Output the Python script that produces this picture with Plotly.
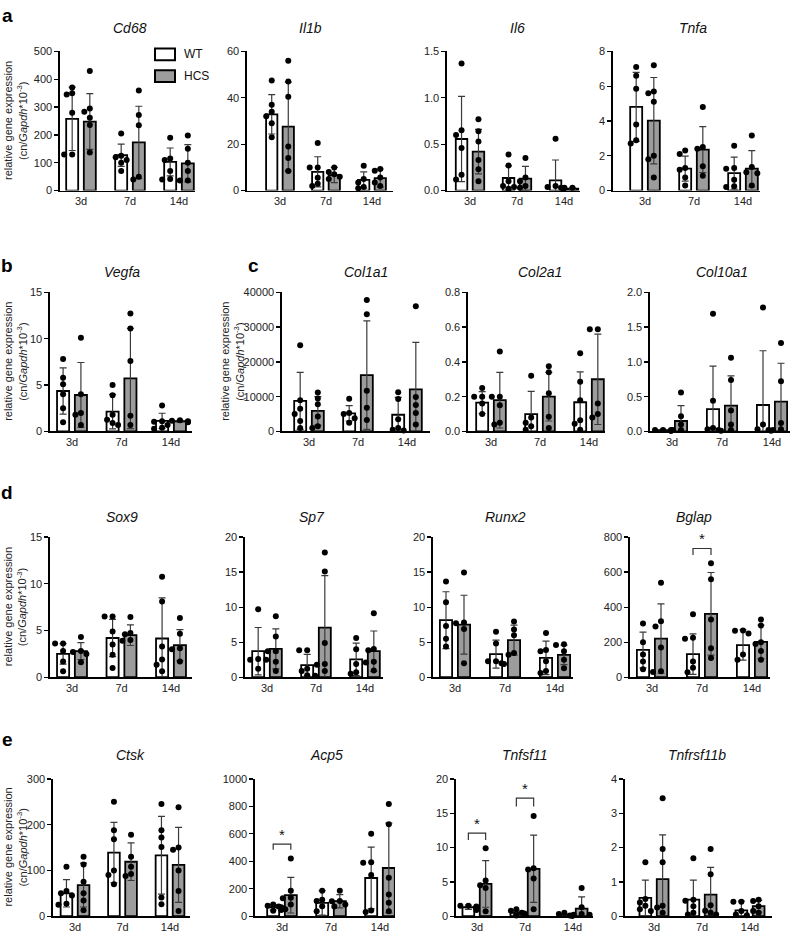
import plotly.graph_objects as go

W, H = 795, 934
days = ["3d", "7d", "14d"]
groups = ["WT", "HCS"]
genes = ["Cd68", "Il1b", "Il6", "Tnfa", "Vegfa", "Col1a1", "Col2a1", "Col10a1",
         "Sox9", "Sp7", "Runx2", "Bglap", "Ctsk", "Acp5", "Tnfsf11", "Tnfrsf11b"]
panel_letters = ["a", "b", "c", "d", "e"]

# y-axis scale per gene (max tick, tick step)
y_max = [500, 60, 1.5, 8, 15, 40000, 0.8, 2.0, 15, 20, 20, 800, 300, 1000, 20, 4]
y_step = [100, 20, 0.5, 2, 5, 10000, 0.2, 0.5, 5, 5, 5, 200, 100, 200, 5, 1]

# ---------------- data (mean, SD, individual points) ----------------
Cd68_WT_mean = [258, 127, 103]
Cd68_WT_sd = [114, 40, 50]
Cd68_HCS_mean = [248, 173, 98]
Cd68_HCS_sd = [100, 130, 67]
Cd68_WT_pts = [[370, 350, 345, 280, 130, 130], [205, 125, 120, 110, 100, 70], [190, 115, 110, 70, 42, 40]]
Cd68_HCS_pts = [[430, 295, 283, 262, 236, 137], [360, 272, 235, 50, 40], [198, 150, 100, 70, 36, 36]]

Il1b_WT_mean = [32.9, 8.1, 4.6]
Il1b_WT_sd = [8.5, 6.5, 3.5]
Il1b_HCS_mean = [27.6, 6.7, 5.4]
Il1b_HCS_sd = [19.2, 3.3, 3.9]
Il1b_WT_pts = [[47.5, 37, 34, 32, 29, 23], [20.5, 10, 10, 5.5, 3, 2], [10.7, 5, 3.5, 1.5, 1]]
Il1b_HCS_pts = [[56, 47, 40.5, 19, 14, 8.5], [10, 8, 7, 6, 5], [9.3, 8.6, 5.7, 3.5, 2]]

Il6_WT_mean = [0.556, 0.136, 0.11]
Il6_WT_sd = [0.46, 0.13, 0.22]
Il6_HCS_mean = [0.42, 0.13, 0.02]
Il6_HCS_sd = [0.24, 0.13, 0.01]
Il6_WT_pts = [[1.37, 0.65, 0.6, 0.46, 0.17, 0.12], [0.39, 0.27, 0.1, 0.05, 0.04, 0.02], [0.56, 0.05, 0.04, 0.03, 0.02]]
Il6_HCS_pts = [[0.77, 0.64, 0.53, 0.33, 0.23, 0.1], [0.35, 0.14, 0.1, 0.05, 0.03], [0.03, 0.03, 0.02, 0.02, 0.02, 0.01]]

Tnfa_WT_mean = [4.81, 1.26, 1.0]
Tnfa_WT_sd = [1.98, 0.72, 0.92]
Tnfa_HCS_mean = [4.02, 2.36, 1.26]
Tnfa_HCS_sd = [2.48, 1.32, 1.04]
Tnfa_WT_pts = [[7.1, 6.6, 5.85, 3.8, 2.9, 2.7], [2.3, 2.1, 1.3, 1.2, 0.75, 0.3], [2.58, 1.3, 1.25, 0.62, 0.25, 0.2]]
Tnfa_HCS_pts = [[7.2, 5.7, 5.6, 5.1, 2.0, 1.8, 0.75], [4.8, 2.5, 2.4, 1.4, 0.85], [3.17, 1.35, 1.05, 1.0, 0.3]]

Vegfa_WT_mean = [4.36, 2.14, 1.14]
Vegfa_WT_sd = [2.5, 1.86, 0.82]
Vegfa_HCS_mean = [3.93, 5.71, 1.1]
Vegfa_HCS_sd = [3.5, 5.4, 0.1]
Vegfa_WT_pts = [[7.8, 5.8, 5.1, 4.0, 2.5, 1.0], [5.0, 3.9, 1.8, 1.25, 0.9, 0.7], [2.8, 1.1, 1.05, 0.7, 0.4, 0.3]]
Vegfa_HCS_pts = [[10.1, 4.0, 2.0, 1.8, 0.7], [12.7, 11.1, 7.6, 1.7, 0.7], [1.2, 1.15, 1.1, 1.05, 1.0]]

Col1a1_WT_mean = [8800, 5200, 4800]
Col1a1_WT_sd = [8200, 2200, 5000]
Col1a1_HCS_mean = [5900, 16200, 12100]
Col1a1_HCS_sd = [4100, 15600, 13500]
Col1a1_WT_pts = [[24800, 9000, 6500, 5000, 3000, 1000], [9400, 5300, 5000, 3800, 2500], [11300, 9300, 3500, 1000, 500, 300]]
Col1a1_HCS_pts = [[11200, 9500, 7800, 4300, 1500, 1000], [37800, 33700, 11700, 6800, 3300], [36000, 9900, 7600, 5300, 2000]]

Col2a1_WT_mean = [0.166, 0.10, 0.168]
Col2a1_WT_sd = [0.063, 0.13, 0.175]
Col2a1_HCS_mean = [0.18, 0.20, 0.30]
Col2a1_HCS_sd = [0.16, 0.14, 0.26]
Col2a1_WT_pts = [[0.25, 0.2, 0.2, 0.16, 0.1], [0.32, 0.08, 0.05, 0.03, 0.01], [0.45, 0.285, 0.18, 0.065, 0.045, 0.01]]
Col2a1_HCS_pts = [[0.46, 0.2, 0.2, 0.15, 0.05, 0.04], [0.375, 0.34, 0.22, 0.085, 0.02], [0.587, 0.587, 0.16, 0.1, 0.08]]

Col10a1_WT_mean = [0.02, 0.32, 0.38]
Col10a1_WT_sd = [0.01, 0.62, 0.78]
Col10a1_HCS_mean = [0.15, 0.37, 0.43]
Col10a1_HCS_sd = [0.22, 0.43, 0.55]
Col10a1_WT_pts = [[0.02, 0.02, 0.02, 0.01, 0.01], [1.69, 0.44, 0.05, 0.03, 0.02, 0.01], [1.78, 0.1, 0.03, 0.02, 0.01]]
Col10a1_HCS_pts = [[0.56, 0.22, 0.1, 0.02, 0.02], [1.06, 0.74, 0.3, 0.1, 0.02], [1.27, 0.72, 0.12, 0.03, 0.02]]

Sox9_WT_mean = [2.5, 4.2, 4.15]
Sox9_WT_sd = [1.1, 2.0, 4.35]
Sox9_HCS_mean = [2.8, 4.5, 3.43]
Sox9_HCS_sd = [0.9, 1.1, 1.67]
Sox9_WT_pts = [[3.6, 3.6, 2.8, 1.7, 0.65], [6.5, 6.5, 4.9, 3.5, 2.4, 1.0], [10.75, 8.1, 3.3, 1.9, 1.35, 0.65]]
Sox9_HCS_pts = [[4.3, 2.8, 2.7, 2.5, 1.6], [6.45, 4.75, 4.6, 4.0, 3.9], [6.35, 4.65, 3.1, 3.0, 1.7]]

Sp7_WT_mean = [3.72, 1.72, 2.56]
Sp7_WT_sd = [3.38, 1.54, 2.32]
Sp7_HCS_mean = [4.05, 7.07, 3.72]
Sp7_HCS_sd = [2.85, 7.43, 2.88]
Sp7_WT_pts = [[9.7, 2.6, 2.5, 2.5, 1.2], [3.85, 3.85, 1.2, 0.9, 0.3, 0.2], [5.6, 4.0, 1.9, 0.7, 0.5]]
Sp7_HCS_pts = [[8.7, 5.8, 3.7, 3.7, 2.2, 0.9], [17.8, 15.1, 4.9, 1.9, 1.8, 0.9], [9.15, 4.05, 3.85, 2.2, 2.1, 0.95]]

Runx2_WT_mean = [8.14, 3.3, 2.76]
Runx2_WT_sd = [4.06, 2.0, 2.39]
Runx2_HCS_mean = [7.5, 5.3, 3.2]
Runx2_HCS_sd = [4.2, 2.15, 1.4]
Runx2_WT_pts = [[13.65, 10.7, 7.3, 5.5, 4.4], [6.5, 4.8, 2.3, 2.3, 2.0, 1.9], [6.3, 3.9, 3.7, 2.3, 0.9, 0.6]]
Runx2_HCS_pts = [[14.95, 7.8, 7.7, 6.9, 2.0], [7.95, 6.8, 6.0, 3.45, 3.2], [4.7, 4.6, 3.7, 2.5, 1.3]]

Bglap_WT_mean = [156, 132, 184]
Bglap_WT_sd = [102, 116, 86]
Bglap_HCS_mean = [221, 362, 202]
Bglap_HCS_sd = [198, 236, 96]
Bglap_WT_pts = [[307, 200, 130, 90, 46], [360, 225, 220, 90, 55, 28], [267, 265, 250, 130, 100]]
Bglap_HCS_pts = [[540, 320, 290, 170, 35, 30], [650, 560, 330, 165, 110], [330, 295, 200, 190, 150, 100]]

Ctsk_WT_mean = [50, 139, 133]
Ctsk_WT_sd = [30, 66, 85]
Ctsk_HCS_mean = [68, 119, 112]
Ctsk_HCS_sd = [48, 41, 82]
Ctsk_WT_pts = [[108, 55, 50, 45, 27, 25], [250, 188, 168, 100, 90, 70], [245, 188, 172, 151, 41, 26]]
Ctsk_HCS_pts = [[130, 113, 75, 50, 34, 13], [178, 130, 108, 92, 88], [238, 150, 145, 100, 55, 11]]

Acp5_WT_mean = [65, 97, 278]
Acp5_WT_sd = [20, 89, 225]
Acp5_HCS_mean = [153, 109, 351]
Acp5_HCS_sd = [130, 48, 327]
Acp5_WT_pts = [[85, 75, 70, 65, 55, 45, 40], [185, 120, 110, 73, 36], [600, 392, 390, 300, 41, 30]]
Acp5_HCS_pts = [[420, 185, 135, 130, 85, 50], [185, 110, 108, 85, 70], [818, 670, 280, 157, 97, 36]]

Tnfsf11_WT_mean = [1.3, 0.48, 0.15]
Tnfsf11_WT_sd = [0.3, 0.24, 0.15]
Tnfsf11_HCS_mean = [4.7, 6.9, 1.1]
Tnfsf11_HCS_sd = [3.4, 4.9, 1.7]
Tnfsf11_WT_pts = [[1.5, 1.5, 1.4, 1.3, 1.2, 0.9], [1.0, 0.8, 0.5, 0.4, 0.2, 0.1], [0.5, 0.3, 0.1, 0.05, 0.05]]
Tnfsf11_HCS_pts = [[9.9, 5.2, 4.5, 4.1, 0.7], [14.6, 7.0, 6.8, 5.5, 1.0], [4.1, 1.3, 0.3, 0.2, 0.2]]

Tnfrsf11b_WT_mean = [0.53, 0.48, 0.17]
Tnfrsf11b_WT_sd = [0.52, 0.57, 0.27]
Tnfrsf11b_HCS_mean = [1.08, 0.63, 0.29]
Tnfrsf11b_HCS_sd = [1.29, 0.79, 0.17]
Tnfrsf11b_WT_pts = [[1.57, 0.5, 0.4, 0.3, 0.2, 0.15], [1.69, 0.48, 0.45, 0.29, 0.1, 0.05], [0.42, 0.42, 0.15, 0.05, 0.03]]
Tnfrsf11b_HCS_pts = [[3.44, 1.96, 1.57, 0.3, 0.25, 0.1], [1.96, 1.22, 0.32, 0.16, 0.1, 0.05], [0.48, 0.44, 0.29, 0.15, 0.1]]

# significance brackets: gene, day index, bracket height (data units), leg bottom
sig_gene = ["Bglap", "Acp5", "Tnfsf11", "Tnfsf11"]
sig_day = [1, 0, 0, 1]
sig_top = [735, 525, 12.1, 17.2]
sig_leg = [698, 484, 11.1, 16.0]
sig_label = ["*", "*", "*", "*"]

# ---------------- layout geometry (pixels) ----------------
# x0, x1 (x-axis extent), c1, c3 (first/last group centres), top, zero (y-axis), title x, title y
GEOM = [
    (60, 195, 81, 179, 46, 187, 130, 22), (247, 393, 280, 372, 46, 187, 310, 22),
    (447, 580, 470, 564, 46, 187, 517, 22), (613, 760, 645, 743, 46, 187, 693, 22),
    (50, 192, 72, 171, 290, 431, 122, 269), (282, 430, 309, 407, 290, 431, 366, 269),
    (468, 605, 491, 589, 290, 431, 540, 269), (650, 790, 672, 772, 290, 431, 722, 269),
    (50, 192, 72, 171, 538, 680, 122, 518), (245, 383, 267, 365, 538, 680, 312, 518),
    (433, 573, 455, 555, 538, 680, 505, 518), (630, 770, 652, 752, 538, 680, 694, 518),
    (53, 190, 75, 170, 783, 922, 130, 759), (255, 395, 282, 380, 783, 922, 326, 759),
    (456, 593, 477, 573, 783, 922, 525, 759), (625, 772, 654, 750, 783, 922, 697, 759),
]
LETTER_POS = [(7, 10), (7, 263), (253, 263), (7, 493), (7, 743)]
YTITLE_PANELS = [(0, 8), (4, 8), (5, 225), (8, 8), (12, 8)]

FONT = "Liberation Sans, Arial, Helvetica, sans-serif"
GRAY = "#9c9c9c"
OFF = 0.18
BW = 0.245


def pxx(p):
    return p / W


def pxy(p):
    return 1 - p / H


def swarm(vals, ypu, xpu, r=5.6):
    order = sorted(range(len(vals)), key=lambda i: -vals[i])
    placed = []
    offs = [0.0] * len(vals)
    cands = [0, -5.5, 5.5, -2.8, 2.8, -8, 8]
    for i in order:
        y = vals[i] * ypu
        chosen = cands[-1]
        for c in cands:
            if all((c - px) ** 2 + (y - py) ** 2 >= r * r for px, py in placed):
                chosen = c
                break
        placed.append((chosen, y))
        offs[i] = chosen / xpu
    return offs


fig = go.Figure()
layout = dict(width=W, height=H, margin=dict(l=0, r=0, t=0, b=0),
              paper_bgcolor="white", plot_bgcolor="white", barmode="overlay",
              showlegend=False, font=dict(family=FONT, color="#222", size=11))
shapes = []
annotations = []

for i, g in enumerate(genes):
    x0, x1, c1, c3, top, zero, tx, ty = GEOM[i]
    n = "" if i == 0 else str(i + 1)
    xa, ya = "x" + n, "y" + n
    unit = (c3 - c1) / 2.0
    lo = -(c1 - x0) / unit
    hi = 2 + (x1 - c3) / unit
    ypu = (zero - top) / y_max[i]
    fmt = ".1f" if y_step[i] < 1 else "d"
    layout["xaxis" + n] = dict(domain=[pxx(x0), pxx(x1)], anchor=ya, range=[lo, hi],
                               tickvals=[0, 1, 2], ticktext=days, ticks="",
                               showline=True, linecolor="black", linewidth=1.6,
                               showgrid=False, zeroline=False, fixedrange=True,
                               tickfont=dict(size=11, family=FONT, color="#222"))
    layout["yaxis" + n] = dict(domain=[pxy(zero), pxy(top)], anchor=xa, range=[0, y_max[i]],
                               tick0=0, dtick=y_step[i], tickformat=fmt,
                               ticks="outside", ticklen=4, tickwidth=1.3, tickcolor="black",
                               showline=True, linecolor="black", linewidth=1.6,
                               showgrid=False, zeroline=False, fixedrange=True,
                               tickfont=dict(size=11, family=FONT, color="#222"))
    for gi, grp in enumerate(groups):
        means = globals()[f"{g}_{grp}_mean"]
        sds = globals()[f"{g}_{grp}_sd"]
        pts = globals()[f"{g}_{grp}_pts"]
        off = -OFF if gi == 0 else OFF
        fig.add_trace(go.Bar(
            x=[k + off for k in range(3)], y=means, width=BW,
            marker=dict(color="white" if gi == 0 else GRAY, line=dict(color="black", width=1.8)),
            error_y=dict(type="data", array=sds, visible=True, color="#3a3a3a",
                         thickness=1.2, width=3.5),
            xaxis=xa, yaxis=ya, hoverinfo="skip"))
        px_, py_ = [], []
        for k in range(3):
            offs = swarm(pts[k], ypu, unit)
            for v, o in zip(pts[k], offs):
                px_.append(k + off + o)
                py_.append(v)
        fig.add_trace(go.Scatter(x=px_, y=py_, mode="markers", cliponaxis=False,
                                 marker=dict(color="black", size=6, line=dict(width=0)),
                                 xaxis=xa, yaxis=ya, hoverinfo="skip"))
    annotations.append(dict(text=f"<i>{g}</i>", x=pxx(tx), y=pxy(ty), xref="paper", yref="paper",
                            showarrow=False, xanchor="center", yanchor="middle",
                            font=dict(size=14, family=FONT, color="#111")))

# significance brackets
for s in range(len(sig_gene)):
    i = genes.index(sig_gene[s])
    n = "" if i == 0 else str(i + 1)
    d = sig_day[s]
    xl, xr = d - OFF, d + OFF
    shapes.append(dict(type="path", xref="x" + n, yref="y" + n,
                       path=f"M {xl},{sig_leg[s]} L {xl},{sig_top[s]} L {xr},{sig_top[s]} L {xr},{sig_leg[s]}",
                       line=dict(color="#333", width=1.2)))
    annotations.append(dict(text=sig_label[s], x=d, y=sig_top[s], xref="x" + n, yref="y" + n,
                            showarrow=False, yanchor="bottom", yshift=-1,
                            font=dict(size=15, family=FONT, color="#111")))

# panel letters
for L, (lx, ly) in zip(panel_letters, LETTER_POS):
    annotations.append(dict(text=f"<b>{L}</b>", x=pxx(lx), y=pxy(ly), xref="paper", yref="paper",
                            showarrow=False, xanchor="center", yanchor="middle",
                            font=dict(size=19, family=FONT, color="black")))

# y-axis titles
for pi, xx in YTITLE_PANELS:
    top, zero = GEOM[pi][4], GEOM[pi][5]
    yc = (top + zero) / 2
    annotations.append(dict(text="relative gene expression", x=pxx(xx), y=pxy(yc),
                            xref="paper", yref="paper", showarrow=False, textangle=-90,
                            xanchor="center", yanchor="middle",
                            font=dict(size=11, family=FONT, color="#222")))
    annotations.append(dict(text="(cn/<i>Gapdh</i>*10<sup>-3</sup>)", x=pxx(xx + 14), y=pxy(yc),
                            xref="paper", yref="paper", showarrow=False, textangle=-90,
                            xanchor="center", yanchor="middle",
                            font=dict(size=11, family=FONT, color="#222")))

# legend (in Cd68 panel)
for gi, grp in enumerate(groups):
    yt = 43 + gi * 22
    shapes.append(dict(type="rect", xref="paper", yref="paper",
                       x0=pxx(155), x1=pxx(175), y0=pxy(yt + 12), y1=pxy(yt),
                       fillcolor="white" if gi == 0 else GRAY, line=dict(color="black", width=2)))
    annotations.append(dict(text=grp, x=pxx(182), y=pxy(yt + 6), xref="paper", yref="paper",
                            showarrow=False, xanchor="left", yanchor="middle",
                            font=dict(size=12, family=FONT, color="#111")))

layout["shapes"] = shapes
layout["annotations"] = annotations
fig.update_layout(**layout)
fig.write_html("out.html", config={"displayModeBar": False, "staticPlot": True},
               post_script="document.body.style.margin='0';document.body.style.padding='0';")
